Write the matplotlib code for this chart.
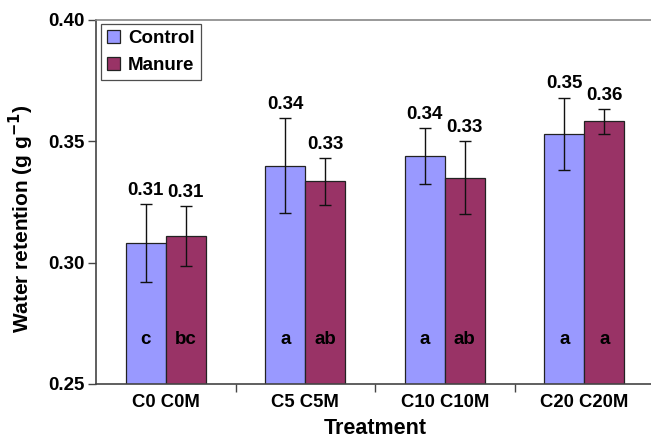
import matplotlib
matplotlib.use("Agg")
import matplotlib.pyplot as plt
import numpy as np

# ── Data ──────────────────────────────────────────────────────────────────────
TREATMENTS = ["C0 C0M", "C5 C5M", "C10 C10M", "C20 C20M"]

CONTROL     = [0.308, 0.340, 0.344, 0.353]
CONTROL_ERR = [0.016, 0.0195, 0.0114, 0.015]
CONTROL_TXT = ["0.31", "0.34", "0.34", "0.35"]
CONTROL_LET = ["c", "a", "a", "a"]

MANURE      = [0.311, 0.3335, 0.335, 0.3582]
MANURE_ERR  = [0.0122, 0.0096, 0.015, 0.005]
MANURE_TXT  = ["0.31", "0.33", "0.33", "0.36"]
MANURE_LET  = ["bc", "ab", "ab", "a"]

# ── Figure ────────────────────────────────────────────────────────────────────
plt.rcParams["font.family"] = ["Liberation Sans", "DejaVu Sans"]
plt.rcParams["font.weight"] = "bold"

W, H = 651, 438
fig = plt.figure(figsize=(W / 100, H / 100), dpi=100)
ax = fig.add_axes([96 / W, 1 - 384 / H, 558 / W, 364 / H])

x = np.arange(len(TREATMENTS))
bw = 0.287
c_col, m_col = "#9999FF", "#993366"

ax.bar(x - bw / 2, CONTROL, bw, color=c_col, edgecolor="#222222",
       linewidth=0.9, label="Control", zorder=2)
ax.bar(x + bw / 2, MANURE, bw, color=m_col, edgecolor="#222222",
       linewidth=0.9, label="Manure", zorder=2)

ax.errorbar(x - bw / 2, CONTROL, yerr=CONTROL_ERR, fmt="none",
            ecolor="#111111", elinewidth=1, capsize=4, capthick=1, zorder=3)
ax.errorbar(x + bw / 2, MANURE, yerr=MANURE_ERR, fmt="none",
            ecolor="#111111", elinewidth=1, capsize=4, capthick=1, zorder=3)

for xi, v, e, t, l in zip(x - bw / 2, CONTROL, CONTROL_ERR, CONTROL_TXT, CONTROL_LET):
    ax.annotate(t, xy=(xi, v + e), xytext=(0, 4), textcoords="offset points",
                ha="center", va="bottom", fontsize=13.5, fontweight="bold")
    ax.text(xi, 0.2685, l, ha="center", va="center", fontsize=13.5, fontweight="bold")
for xi, v, e, t, l in zip(x + bw / 2, MANURE, MANURE_ERR, MANURE_TXT, MANURE_LET):
    ax.annotate(t, xy=(xi, v + e), xytext=(0, 4), textcoords="offset points",
                ha="center", va="bottom", fontsize=13.5, fontweight="bold")
    ax.text(xi, 0.2685, l, ha="center", va="center", fontsize=13.5, fontweight="bold")

ax.set_xlim(-0.5, 3.5)
ax.set_ylim(0.25, 0.40)
ax.set_yticks([0.25, 0.30, 0.35, 0.40])
ax.set_yticklabels(["0.25", "0.30", "0.35", "0.40"])
ax.set_xticks(x)
ax.set_xticklabels(TREATMENTS)
ax.set_xticks([0.5, 1.5, 2.5], minor=True)
ax.tick_params(axis="x", which="major", length=0, pad=7, labelsize=13.3)
ax.tick_params(axis="x", which="minor", length=6, width=1, color="#444444", direction="out")
ax.tick_params(axis="y", length=6, width=1, color="#444444", labelsize=13.5, pad=2)

for s in ["left", "bottom"]:
    ax.spines[s].set_color("#444444")
    ax.spines[s].set_linewidth(1.2)
ax.spines["top"].set_color("#888888")
ax.spines["top"].set_linewidth(1.2)
ax.spines["right"].set_visible(False)

ax.set_xlabel("Treatment", fontsize=15.5, fontweight="bold", labelpad=5)
ax.set_ylabel("Water retention (g g$^{\\mathbf{-1}}$)", fontsize=15,
              fontweight="bold")
ax.yaxis.set_label_coords(-0.108, 0.455)

leg = ax.legend(loc="upper left", bbox_to_anchor=(0.005, 0.995), fontsize=13.5,
                frameon=True, fancybox=False, edgecolor="#222222",
                handlelength=0.7, handleheight=0.7, handletextpad=0.4,
                borderpad=0.35, labelspacing=0.5, borderaxespad=0.1)
leg.get_frame().set_linewidth(0.9)

fig.savefig("out.png", dpi=100)
